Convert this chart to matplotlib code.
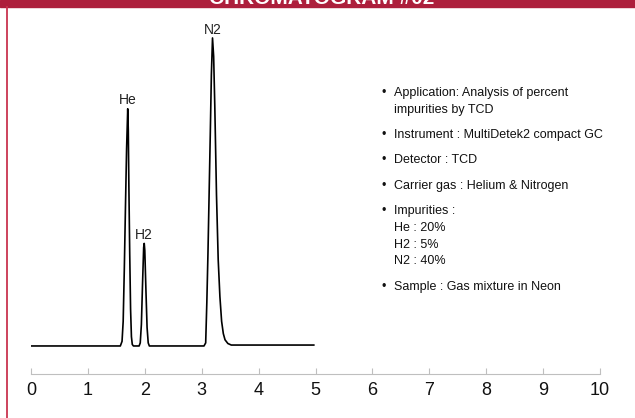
import matplotlib
matplotlib.use("Agg")
import matplotlib.pyplot as plt
from matplotlib.lines import Line2D
from matplotlib.patches import Rectangle

# chromatogram trace (time in min, signal in arbitrary units)
time_min = [0.00, 1.57, 1.60, 1.62, 1.64, 1.66, 1.68, 1.70, 1.71, 1.72, 1.735, 1.75, 1.765, 1.78, 1.80,
            1.90, 1.92, 1.94, 1.96, 1.98, 1.99, 2.00, 2.02, 2.04, 2.06, 2.08,
            3.04, 3.07, 3.09, 3.11, 3.13, 3.15, 3.17, 3.19, 3.21, 3.23, 3.26, 3.29, 3.32, 3.35,
            3.38, 3.41, 3.46, 3.52, 3.58, 4.97]
signal = [0.0, 0.0, 1.5, 8, 25, 45, 64, 77, 70, 52, 30, 12, 3, 0.5, 0.0,
          0.0, 1, 7, 20, 32, 33.3, 31, 18, 6, 1, 0.0,
          0.0, 1, 14, 30, 49, 68, 88, 100, 94, 78, 49, 28, 16, 8,
          4, 2, 0.8, 0.3, 0.3, 0.3]

peak_names = ["He", "H2", "N2"]
peak_times = [1.70, 1.99, 3.19]
peak_heights = [77, 33.3, 100]

info_lines = [
    ["Application: Analysis of percent", "impurities by TCD"],
    ["Instrument : MultiDetek2 compact GC"],
    ["Detector : TCD"],
    ["Carrier gas : Helium & Nitrogen"],
    ["Impurities :", "He : 20%", "H2 : 5%", "N2 : 40%"],
    ["Sample : Gas mixture in Neon"],
]

W, H = 635, 418
fig = plt.figure(figsize=(W / 100, H / 100), dpi=100)
fig.patch.set_facecolor("white")

red = "#ad1f3c"
# top banner, the title is mostly cut off in the original
fig.patches.append(Rectangle((0, 1 - 6.5 / H), 1, 6.5 / H, transform=fig.transFigure,
                             color=red, zorder=0))
fig.text(322 / W, 1 - 3.5 / H, "CHROMATOGRAM #02", color="white", fontsize=15,
         fontweight="bold", ha="center", va="baseline", family="Liberation Sans")
fig.lines.append(Line2D([6.5 / W, 6.5 / W], [0, 1 - 6.5 / H], transform=fig.transFigure,
                        color="#c9344f", lw=1.3))

ax = fig.add_axes([31 / W, 1 - 374 / H, 569 / W, (374 - 25) / H])
ax.plot(time_min, signal, color="black", lw=1.2)
ax.set_xlim(0, 10)
ax.set_ylim(-9.1, 104.2)

for name, t, h in zip(peak_names, peak_times, peak_heights):
    ax.annotate(name, xy=(t, h), xytext=(0, 1), textcoords="offset points",
                ha="center", va="bottom", fontsize=10, color="#222222",
                family=["Liberation Sans Narrow", "Liberation Sans"])

ax.set_xticks(range(0, 11))
ax.tick_params(axis="x", direction="in", length=4, color="#bfbfbf", labelsize=13,
               pad=6, labelcolor="#111111")
for lab in ax.get_xticklabels():
    lab.set_family("Liberation Sans")
ax.set_yticks([])
for side in ["left", "right", "top"]:
    ax.spines[side].set_visible(False)
ax.spines["bottom"].set_color("#bfbfbf")
ax.patch.set_alpha(0)

# bullet list on the right
y = 93
for block in info_lines:
    fig.text(384 / W, 1 - y / H, "\u2022", fontsize=9, va="center", ha="center",
             family="Liberation Sans", color="#111111")
    for line in block:
        fig.text(394 / W, 1 - y / H, line, fontsize=9, va="center", ha="left",
                 family="Liberation Sans", color="#111111")
        y += 16.8
    y += 8.5

fig.savefig("out.png", dpi=100)
